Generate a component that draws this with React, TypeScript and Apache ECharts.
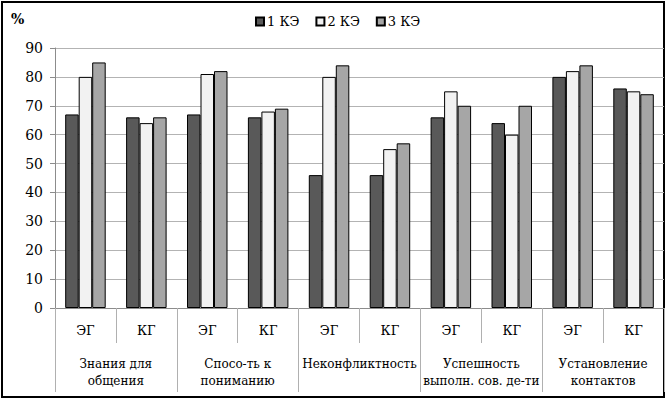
import React, { useEffect, useRef } from "react";
import * as echarts from "echarts";

const subCategories = ["ЭГ", "КГ", "ЭГ", "КГ", "ЭГ", "КГ", "ЭГ", "КГ", "ЭГ", "КГ"];
const groupCategories = [
  "Знания для\nобщения",
  "Спосо-ть к\nпониманию",
  "Неконфликтность",
  "Успешность\nвыполн. сов. де-ти",
  "Установление\nконтактов",
];
const seriesNames = ["1 КЭ", "2 КЭ", "3 КЭ"];
const ke1 = [67, 66, 67, 66, 46, 46, 66, 64, 80, 76];
const ke2 = [80, 64, 81, 68, 80, 55, 75, 60, 82, 75];
const ke3 = [85, 66, 82, 69, 84, 57, 70, 70, 84, 74];
const seriesColors = ["#595959", "#f2f2f2", "#a6a6a6"];

const FONT = "DejaVu Serif";

export default function App() {
  const ref = useRef<HTMLDivElement>(null);
  useEffect(() => {
    document.body.style.margin = "0";
    const chart = echarts.init(ref.current!, null, { renderer: "svg" });
    const values = [ke1, ke2, ke3];
    chart.setOption({
      animation: false,
      backgroundColor: "#ffffff",
      textStyle: { fontFamily: FONT, color: "#000" },
      legend: {
        top: 10,
        left: 250,
        itemWidth: 8,
        itemHeight: 8,
        itemGap: 16,
        icon: "rect",
        textStyle: { fontFamily: FONT, fontSize: 13, color: "#000", padding: [0, 0, 0, -2] },
        data: seriesNames,
      },
      grid: { left: 55, right: 3, top: 48, bottom: 93, containLabel: false },
      xAxis: [
        {
          type: "category",
          data: subCategories,
          position: "bottom",
          axisLine: { show: true, lineStyle: { color: "#8c8c8c", width: 1 } },
          axisTick: { show: true, interval: 0, length: 35, lineStyle: { color: "#b0b0b0", width: 1 } },
          axisLabel: { interval: 0, margin: 16, fontFamily: FONT, fontSize: 13, color: "#000" },
        },
        {
          type: "category",
          data: groupCategories,
          position: "bottom",
          axisLine: { show: false },
          axisTick: { show: true, interval: 0, length: 84, lineStyle: { color: "#b0b0b0", width: 1 } },
          axisLabel: { interval: 0, margin: 47, fontFamily: FONT, fontSize: 12, lineHeight: 17, color: "#000" },
        },
      ],
      yAxis: {
        type: "value",
        min: 0,
        max: 90,
        interval: 10,
        axisLine: { show: true, lineStyle: { color: "#8c8c8c", width: 1 } },
        axisTick: { show: true, length: 5, lineStyle: { color: "#8c8c8c" } },
        axisLabel: { margin: 12, fontFamily: FONT, fontSize: 14, color: "#000" },
        splitLine: { show: true, lineStyle: { color: "#b3b3b3", width: 1 } },
      },
      series: seriesNames.map((name, i) => ({
        name,
        type: "bar",
        xAxisIndex: 0,
        data: values[i],
        barWidth: 13.5,
        barGap: "0%",
        itemStyle: { color: seriesColors[i], borderColor: "#000", borderWidth: 1 },
      })),
      graphic: [
        {
          type: "text",
          left: 11,
          top: 12,
          style: { text: "%", fontFamily: FONT, fontSize: 14, fontWeight: "bold", fill: "#000" },
        },
        {
          type: "rect",
          shape: { x: 2, y: 2, width: 662, height: 395 },
          style: { fill: "none", stroke: "#000", lineWidth: 2 },
          silent: true,
        },
      ],
    });
    return () => chart.dispose();
  }, []);
  return <div ref={ref} style={{ width: 667, height: 401 }} />;
}
